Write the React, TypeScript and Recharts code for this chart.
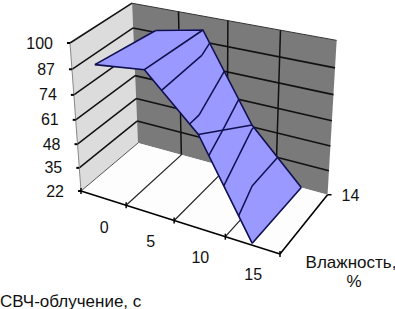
import { ScatterChart, Scatter, XAxis, YAxis } from "recharts";

// seconds of microwave exposure, humidity series, value axis
const times = ["0", "5", "10", "15"];
const humidityLabel = "14";
const valueTicks = [22, 35, 48, 61, 74, 87, 100];
const frontRow = [92, 95, 70, 23];
const backRow = [88, 93, 49, 22];

const WIDTH = 395;
const HEIGHT = 309;

// perspective box: corners of the 3d frame on the picture
const O = [81, 191];
const X = [280, 254];
const Y = [70, 43];
const Z = [138, 143];
const wx = 0.88;
const wy = 0.926;
const wz = 1.08;

type Pt = { x: number; y: number };

const vMin = valueTicks[0];
const vMax = valueTicks[valueTicks.length - 1];

const project = (tx: number, value: number, tz: number): Pt => {
  const ty = (value - vMin) / (vMax - vMin);
  const o = 1 - tx - ty - tz;
  const den = o + wx * tx + wy * ty + wz * tz;
  return {
    x: (o * O[0] + wx * tx * X[0] + wy * ty * Y[0] + wz * tz * Z[0]) / den,
    y: (o * O[1] + wx * tx * X[1] + wy * ty * Y[1] + wz * tz * Z[1]) / den,
  };
};

const catX = (i: number) => (i + 0.5) / times.length;
const rows = [frontRow, backRow];

const hide = () => <g />;

const poly = (fill: string, stroke = "none", strokeWidth = 1) => (p: any) => (
  <path
    d={"M" + p.points.map((q: Pt) => `${q.x},${q.y}`).join("L") + "Z"}
    fill={fill}
    stroke={stroke}
    strokeWidth={strokeWidth}
    strokeLinejoin="round"
  />
);

const Segment = (data: Pt[], stroke: string, width: number, key: string) => (
  <Scatter
    key={key}
    data={data}
    isAnimationActive={false}
    shape={hide}
    line={{ stroke, strokeWidth: width }}
  />
);

const Polygon = (data: Pt[], fill: string, key: string, stroke = "none") => (
  <Scatter key={key} data={data} isAnimationActive={false} shape={hide} line={poly(fill, stroke)} />
);

const Label = (data: (Pt & { text: string })[], anchor: string, size: number, key: string) => (
  <Scatter
    key={key}
    data={data}
    isAnimationActive={false}
    shape={(p: any) => (
      <text
        x={p.cx}
        y={p.cy}
        textAnchor={anchor}
        dominantBaseline="central"
        fontFamily="'Liberation Sans', Arial, sans-serif"
        fontSize={size}
        fill="#111"
      >
        {p.payload.text}
      </text>
    )}
  />
);

const offset = (p: Pt, dx: number, dy: number) => ({ x: p.x + dx, y: p.y + dy });

// contour lines at each major unit, cut on two triangles per cell
const contours = () => {
  const segs: Pt[][] = [];
  type V = [number, number, number];
  const levels = valueTicks.slice(1, -1);
  for (let i = 0; i < times.length - 1; i++) {
    const a: V = [catX(i), frontRow[i], 0];
    const b: V = [catX(i + 1), frontRow[i + 1], 0];
    const c: V = [catX(i), backRow[i], 1];
    const d: V = [catX(i + 1), backRow[i + 1], 1];
    for (const tri of [[a, b, c], [b, d, c]] as V[][]) {
      for (const level of levels) {
        const hits: Pt[] = [];
        for (let k = 0; k < 3; k++) {
          const p = tri[k];
          const q = tri[(k + 1) % 3];
          if (p[1] >= level !== q[1] >= level) {
            const t = (level - p[1]) / (q[1] - p[1]);
            hits.push(project(p[0] + t * (q[0] - p[0]), level, p[2] + t * (q[2] - p[2])));
          }
        }
        if (hits.length === 2) segs.push(hits);
      }
    }
  }
  return segs;
};

const NAVY = "#10104f";
const ticksX = [0, 0.25, 0.5, 0.75, 1];

export default function App() {
  return (
    <div style={{ position: "absolute", left: 0, top: 0, width: WIDTH, height: HEIGHT }}>
      <ScatterChart width={WIDTH} height={HEIGHT} margin={{ top: 0, right: 0, bottom: 0, left: 0 }}>
        <XAxis type="number" dataKey="x" domain={[0, WIDTH]} hide allowDataOverflow />
        <YAxis type="number" dataKey="y" domain={[0, HEIGHT]} reversed hide allowDataOverflow />

        {/* walls and floor */}
        {Polygon([project(0, vMin, 0), project(0, vMax, 0), project(0, vMax, 1), project(0, vMin, 1)], "#dcdcdc", "left")}
        {Polygon([project(0, vMin, 1), project(0, vMax, 1), project(1, vMax, 1), project(1, vMin, 1)], "#7a7a7a", "back")}
        {Polygon([project(0, vMin, 0), project(0, vMin, 1), project(1, vMin, 1), project(1, vMin, 0)], "#fdfdfd", "floor")}

        {/* value gridlines */}
        {valueTicks.slice(1).map((v) =>
          Segment([project(0, v, 0), project(0, v, 1)], "#111", 1.5, `gl${v}`)
        )}
        {valueTicks.slice(1, -1).map((v) =>
          Segment([project(0, v, 1), project(1, v, 1)], "#111", 1.6, `gb${v}`)
        )}
        {Segment([project(0, vMax, 1), project(1, vMax, 1)], "#333", 1, "gtop")}
        {Segment([project(0, vMin, 0), project(0, vMin, 1)], "#555", 1, "gfloorl")}
        {Segment([project(0, vMin, 0), project(0, vMax, 0)], "#888", 1, "gleft")}
        {ticksX.slice(1, -1).map((t) =>
          Segment([project(t, vMin, 0), project(t, vMin, 1)], "#222", 1.2, `fl${t}`)
        )}
        {ticksX.slice(1, -1).map((t) =>
          Segment([project(t, vMin, 1), project(t, vMax, 1)], "#111", 1.5, `bv${t}`)
        )}

        {/* axes and ticks */}
        {Segment([project(0, vMin, 0), project(1, vMin, 0)], "#000", 1.6, "front")}
        {Segment([project(1, vMin, 0), project(1, vMin, 1)], "#000", 1.6, "right")}
        {valueTicks.map((v) =>
          Segment([offset(project(0, v, 0), -3, 0), project(0, v, 0)], "#000", 2, `tv${v}`)
        )}
        {ticksX.map((t) =>
          Segment([offset(project(t, vMin, 0), 0, -3), offset(project(t, vMin, 0), 0, 3)], "#000", 1.5, `tx${t}`)
        )}
        {Segment([project(1, vMin, 1), offset(project(1, vMin, 1), 4, 0)], "#000", 1.5, "tz")}

        {/* surface */}
        {times.slice(0, -1).map((_, i) => (
          Polygon(
            [
              project(catX(i), frontRow[i], 0),
              project(catX(i + 1), frontRow[i + 1], 0),
              project(catX(i + 1), backRow[i + 1], 1),
              project(catX(i), backRow[i], 1),
            ],
            "#9999ff",
            `cell${i}`,
            "#9999ff"
          )
        ))}
        {contours().map((s, i) => Segment(s, NAVY, 1.5, `c${i}`))}
        {times.map((_, i) =>
          Segment([project(catX(i), frontRow[i], 0), project(catX(i), backRow[i], 1)], NAVY, 1.6, `row${i}`)
        )}
        {rows.map((row, r) =>
          Segment(row.map((v, i) => project(catX(i), v, r)), NAVY, 1.6, `edge${r}`)
        )}

        {/* labels */}
        {Label(valueTicks.map((v) => ({ ...offset(project(0, v, 0), -17, 0), text: String(v) })), "end", 16, "lv")}
        {Label(times.map((t, i) => ({ ...offset(project(catX(i), vMin, 0), 1, 29), text: t })), "middle", 16, "lt")}
        {Label([{ ...offset(project(1, vMin, 1), 14, 1), text: humidityLabel }], "start", 16, "lz")}
        {Label([{ x: 351, y: 262, text: "Влажность," }, { x: 354, y: 281, text: "%" }], "middle", 17, "tz2")}
        {Label([{ x: 0, y: 301, text: "СВЧ-облучение, с" }], "start", 17, "tx2")}
      </ScatterChart>
    </div>
  );
}
